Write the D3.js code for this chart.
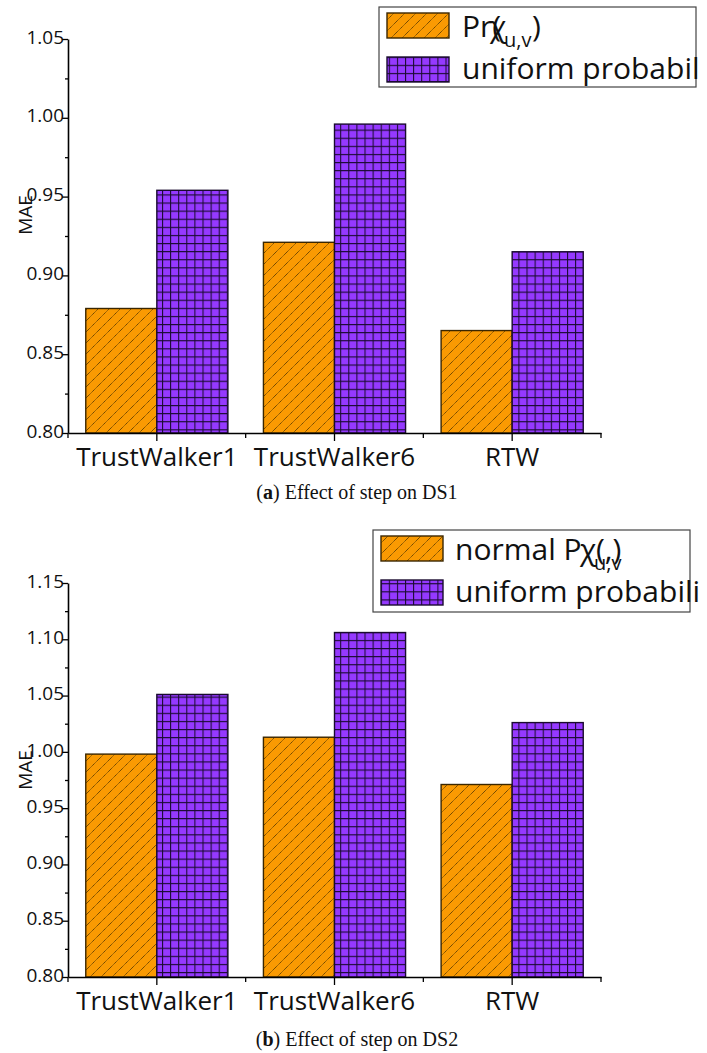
<!DOCTYPE html>
<html>
<head>
<meta charset="utf-8">
<script src="https://cdn.jsdelivr.net/npm/d3@7/dist/d3.min.js"></script>
<style>
  html, body { margin: 0; padding: 0; background: #fff; }
  svg { display: block; }
</style>
</head>
<body>
<svg id="chart" width="707" height="1053"></svg>
<script>
// ---- data ----
const categories = ["TrustWalker1", "TrustWalker6", "RTW"];
const seriesKeys = ["pr", "uniform"];
const ds1Pr = [0.879, 0.921, 0.865];
const ds1Uniform = [0.954, 0.996, 0.915];
const ds2Pr = [0.998, 1.013, 0.971];
const ds2Uniform = [1.051, 1.106, 1.026];
const ds1Ticks = [0.80, 0.85, 0.90, 0.95, 1.00, 1.05];
const ds2Ticks = [0.80, 0.85, 0.90, 0.95, 1.00, 1.05, 1.10, 1.15];
const ds1Legend = ["Pr(", "uniform probabil"];
const ds2Legend = ["normal P", "uniform probabili"];
const captions = [["a", " Effect of step on DS1"], ["b", " Effect of step on DS2"]];
const yLabel = "MAE";

const svg = d3.select("#chart");
const FONT = "'Open Sans', 'DejaVu Sans', sans-serif";
const ORANGE = "#FA9A02";
const PURPLE = "#9539FF";

// patterns
const defs = svg.append("defs");
const hatch = defs.append("pattern").attr("id", "hatch")
  .attr("patternUnits", "userSpaceOnUse").attr("width", 11).attr("height", 11);
hatch.append("rect").attr("width", 11).attr("height", 11).attr("fill", ORANGE);
hatch.append("path").attr("d", "M0,11 L11,0 M-3,3 L3,-3 M8,14 L14,8")
  .attr("stroke", "#4a3000").attr("stroke-width", 0.9).attr("stroke-dasharray", "1.2,0.6");

const grid = defs.append("pattern").attr("id", "grid")
  .attr("patternUnits", "userSpaceOnUse").attr("width", 8.1).attr("height", 8.1);
grid.append("rect").attr("width", 8.1).attr("height", 8.1).attr("fill", PURPLE);
grid.append("path").attr("d", "M0.5,0 V8.1 M0,0.5 H8.1")
  .attr("stroke", "#1a0a30").attr("stroke-width", 1.1);

function panel(opts) {
  const { top, bottom, left, right, ticks, prVals, uniVals, legend, caption } = opts;
  const g = svg.append("g");
  const x = d3.scaleBand().domain(categories).range([left, right]).padding(0);
  const xs = d3.scaleBand().domain(seriesKeys).range([0, x.bandwidth()])
    .paddingInner(0).paddingOuter(0.25);
  const y = d3.scaleLinear().domain([ticks[0], ticks[ticks.length - 1]]).range([bottom, top]);

  const rows = categories.map((c, i) => ({ c, pr: prVals[i], uniform: uniVals[i] }));
  const bars = [];
  rows.forEach(r => seriesKeys.forEach(k => bars.push({ c: r.c, k, v: r[k] })));

  g.selectAll("rect.bar").data(bars).join("rect")
    .attr("class", "bar")
    .attr("x", d => x(d.c) + xs(d.k))
    .attr("width", xs.bandwidth())
    .attr("y", d => y(d.v))
    .attr("height", d => y(ticks[0]) - y(d.v))
    .attr("fill", d => d.k === "pr" ? "url(#hatch)" : "url(#grid)")
    .attr("stroke", d => d.k === "pr" ? "#3a2600" : "#1a0a30")
    .attr("stroke-width", 1.4);

  // y axis
  const minor = d3.range(ticks.length - 1).map(i => (ticks[i] + ticks[i + 1]) / 2);
  const yAxisG = g.append("g").attr("transform", `translate(${left},0)`)
    .call(d3.axisLeft(y).tickValues(ticks).tickSize(6).tickSizeOuter(0).tickPadding(-2)
      .tickFormat(d3.format(".2f")));
  yAxisG.select(".domain").attr("stroke", "#000").attr("stroke-width", 1.6);
  yAxisG.selectAll(".tick line").attr("stroke", "#000").attr("stroke-width", 1.3);
  yAxisG.selectAll(".tick text").attr("font-family", FONT).attr("font-size", 19)
    .attr("fill", "#111").attr("dy", "0.22em");
  const yMinorG = g.append("g").attr("transform", `translate(${left},0)`)
    .call(d3.axisLeft(y).tickValues(minor).tickSize(3).tickSizeOuter(0).tickFormat(""));
  yMinorG.select(".domain").remove();
  yMinorG.selectAll(".tick line").attr("stroke", "#000").attr("stroke-width", 1.3);

  // x axis
  const xAxisG = g.append("g").attr("transform", `translate(0,${bottom})`)
    .call(d3.axisBottom(x).tickSize(8).tickSizeOuter(0).tickPadding(7));
  xAxisG.select(".domain").attr("stroke", "#000").attr("stroke-width", 1.6);
  xAxisG.selectAll(".tick line").attr("stroke", "#000").attr("stroke-width", 1.3);
  xAxisG.selectAll(".tick text").attr("font-family", FONT).attr("font-size", 26)
    .attr("fill", "#111");
  const edges = [left].concat(categories.map(c => x(c) + x.bandwidth()));
  g.selectAll("line.xminor").data(edges).join("line").attr("class", "xminor")
    .attr("x1", d => d).attr("x2", d => d)
    .attr("y1", bottom).attr("y2", bottom + 5)
    .attr("stroke", "#000").attr("stroke-width", 1.3);

  // y label
  g.append("text")
    .attr("transform", `translate(32,${opts.yLabelY}) rotate(-90)`)
    .attr("text-anchor", "middle")
    .attr("font-family", FONT).attr("font-size", 19).attr("fill", "#111")
    .text(yLabel);

  // legend
  const L = opts.legendBox;
  const lg = g.append("g");
  lg.append("rect").attr("x", L.x).attr("y", L.y).attr("width", L.w).attr("height", L.h)
    .attr("fill", "#fff").attr("stroke", "#444").attr("stroke-width", 1.2);
  ["url(#hatch)", "url(#grid)"].forEach((f, i) => {
    lg.append("rect").attr("x", L.x + 8).attr("y", L.y + 6 + i * 44)
      .attr("width", 62).attr("height", 25)
      .attr("fill", f).attr("stroke", i === 0 ? "#3a2600" : "#1a0a30").attr("stroke-width", 1.4);
  });
  lg.append("text").attr("x", L.tx).attr("y", L.y + 30)
    .attr("font-family", FONT).attr("font-size", 30).attr("fill", "#111").text(legend[0]);
  lg.append("text").attr("x", L.chiX).attr("y", L.y + 30)
    .attr("font-family", FONT).attr("font-size", 30).attr("fill", "#111").text("χ");
  lg.append("text").attr("x", L.chiX + 14).attr("y", L.y + 40)
    .attr("font-family", FONT).attr("font-size", 20).attr("fill", "#111").text("u,v");
  lg.append("text").attr("x", L.closeX).attr("y", L.y + 30)
    .attr("font-family", FONT).attr("font-size", 30).attr("fill", "#111").text(opts.closeText);
  lg.append("text").attr("x", L.tx).attr("y", L.y + 72)
    .attr("font-family", FONT).attr("font-size", 30).attr("fill", "#111").text(legend[1]);

  // caption
  const cap = g.append("text").attr("x", 357).attr("y", opts.captionY)
    .attr("text-anchor", "middle")
    .attr("font-family", "'Liberation Serif', 'Times New Roman', serif")
    .attr("font-size", 20).attr("fill", "#111");
  cap.append("tspan").text("(");
  cap.append("tspan").attr("font-weight", "bold").text(caption[0]);
  cap.append("tspan").text(")" + caption[1]);
}

panel({
  top: 39, bottom: 433, left: 68, right: 601,
  ticks: ds1Ticks, prVals: ds1Pr, uniVals: ds1Uniform,
  legend: ds1Legend, caption: captions[0], yLabelY: 215, captionY: 499,
  legendBox: { x: 379, y: 7, w: 317, h: 80, tx: 462, chiX: 490, closeX: 532 },
  closeText: ")"
});
panel({
  top: 583, bottom: 977, left: 68, right: 601,
  ticks: ds2Ticks, prVals: ds2Pr, uniVals: ds2Uniform,
  legend: ds2Legend, caption: captions[1], yLabelY: 770, captionY: 1046,
  legendBox: { x: 373, y: 530, w: 317, h: 82, tx: 455, chiX: 580, closeX: 596 },
  closeText: "(,)"
});
</script>
</body>
</html>
